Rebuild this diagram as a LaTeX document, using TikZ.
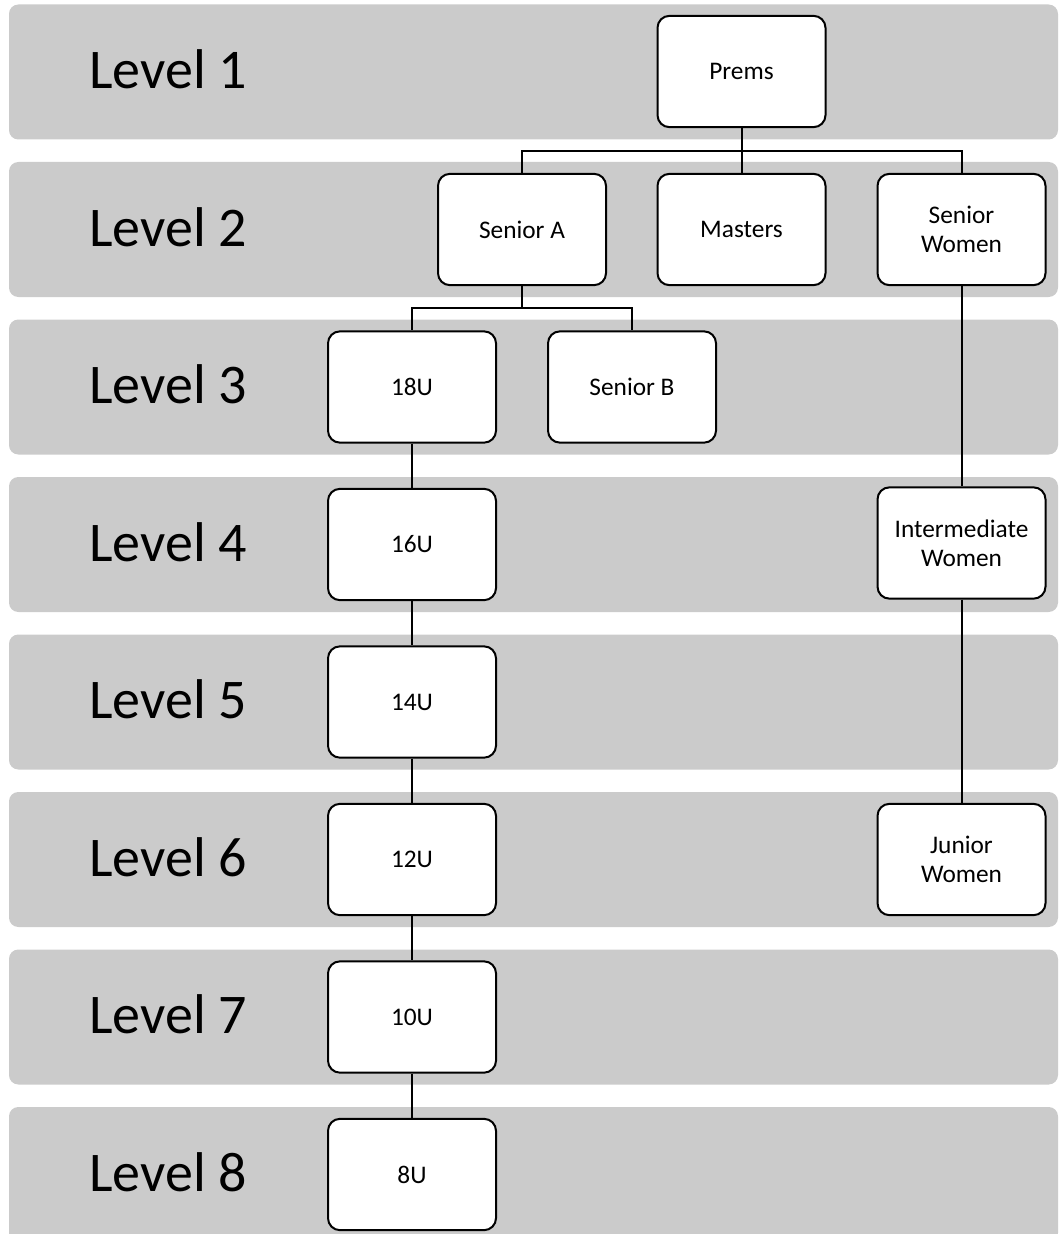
\documentclass[tikz,border=0pt]{standalone}
\usepackage{fontspec}
\setmainfont{Carlito}
\definecolor{bandgray}{HTML}{CBCBCB}
\begin{document}
\begin{tikzpicture}[x=0.75pt,y=-0.75pt,
  band/.style={fill=bandgray, rounded corners=7pt},
  lvl/.style={anchor=base west, inner sep=0pt, font=\fontsize{42}{50}\selectfont},
  box/.style={draw=black, line width=1.5pt, fill=white, rounded corners=9pt,
    minimum width=126pt, minimum height=83.5pt, inner sep=0pt, align=center,
    font=\fontsize{19}{21.75}\selectfont},
  conn/.style={draw=black, line width=1.5pt}]
\useasboundingbox (0,0) rectangle (1059,1234);
\clip (0,0) rectangle (1059,1234);
% bands
\foreach \i in {1,...,8}{
  \pgfmathsetmacro{\c}{72+157.5*(\i-1)}
  \fill[band] (9,\c-67.5) rectangle (1058,\c+67.5);
  \node[lvl] (lvl\i) at (89,\c+16.5) {Level \i};
}
% boxes
\node[box] (prems)   at (741.5,71.5) {Prems};
\node[box] (srA)     at (522,229.5) {Senior A};
\node[box] (masters) at (741.5,229.5) {Masters};
\node[box] (srW)     at (961.5,229.5) {Senior\\Women};
\node[box] (u18)     at (412,387) {18U};
\node[box] (srB)     at (632,387) {Senior B};
\node[box] (u16)     at (412,544.5) {16U};
\node[box] (intW)    at (961.5,543) {Intermediate\\Women};
\node[box] (u14)     at (412,702) {14U};
\node[box] (u12)     at (412,859.5) {12U};
\node[box] (jrW)     at (961.5,859.5) {Junior\\Women};
\node[box] (u10)     at (412,1017) {10U};
\node[box] (u8)      at (412,1174.5) {8U};
% junction levels
\coordinate (j1) at (0,151);
\coordinate (j2) at (0,308);
% connectors
\draw[conn] (prems.south) -- (masters.north);
\draw[conn] (prems.south |- j1) -| (srA.north);
\draw[conn] (prems.south |- j1) -| (srW.north);
\draw[conn] (srA.south) -- (srA.south |- j2);
\draw[conn] (srA.south |- j2) -| (u18.north);
\draw[conn] (srA.south |- j2) -| (srB.north);
\draw[conn] (u18.south) -- (u16.north);
\draw[conn] (u16.south) -- (u14.north);
\draw[conn] (u14.south) -- (u12.north);
\draw[conn] (u12.south) -- (u10.north);
\draw[conn] (u10.south) -- (u8.north);
\draw[conn] (srW.south) -- (intW.north);
\draw[conn] (intW.south) -- (jrW.north);
\end{tikzpicture}
\end{document}
